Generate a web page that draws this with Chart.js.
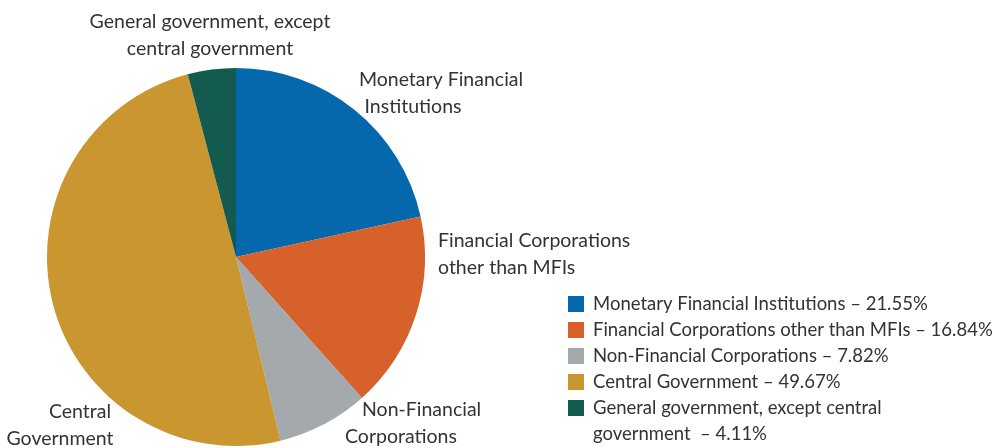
<!DOCTYPE html>
<html><head><meta charset="utf-8">
<script src="https://cdn.jsdelivr.net/npm/chart.js@4"></script>
<style>html,body{margin:0;padding:0;background:#fff}#wrap{width:997px;height:448px;position:relative}</style>
</head><body><div id="wrap"><canvas id="c" width="997" height="448"></canvas></div>
<script>
const categories = ["Monetary Financial Institutions","Financial Corporations other than MFIs","Non-Financial Corporations","Central Government","General government, except central government"];
const values = [21.55, 16.84, 7.82, 49.67, 4.11];
const colors = ["#0568AC","#D7612A","#A3A9AC","#C9962F","#135B4F"];
const sliceLabels = [["Monetary Financial","Institutions"],["Financial Corporations","other than MFIs"],["Non-Financial","Corporations"],["Central","Government"],["General government, except","central government"]];
const legendLines = [
  ["Monetary Financial Institutions \u2013 21.55%"],
  ["Financial Corporations other than MFIs \u2013 16.84%"],
  ["Non-Financial Corporations \u2013 7.82%"],
  ["Central Government \u2013 49.67%"],
  ["General government, except central","government  \u2013 4.11%"]
];
// label placement: [x, y, align] for each line
const labelPos = [
  [[441,80,"center"],[413,107,"center"]],
  [[438,241,"left"],[438,268,"left"]],
  [[362,410,"left"],[345,437,"left"]],
  [[80,412,"center"],[60,439,"center"]],
  [[210,22,"center"],[210,49,"center"]]
];
const LFONT = '19.5px Lato, "Open Sans", sans-serif';
const GFONT = '18.5px Lato, "Open Sans", sans-serif';
const TXT = '#333333';
const overlay = {
  id:'overlay',
  afterDraw(chart){
    const ctx = chart.ctx;
    ctx.save();
    ctx.font = LFONT; ctx.fillStyle = TXT; ctx.textBaseline='middle';
    sliceLabels.forEach((lines,i)=>{
      lines.forEach((t,j)=>{
        const p = labelPos[i][j];
        ctx.textAlign = p[2];
        ctx.fillText(t,p[0],p[1]);
      });
    });
    ctx.font = GFONT;
    let y = 304;
    legendLines.forEach((lines,i)=>{
      ctx.fillStyle = colors[i];
      ctx.fillRect(568, y-8, 16, 16);
      ctx.fillStyle = TXT; ctx.textAlign='left';
      lines.forEach((t,j)=>{ ctx.fillText(t, 593, y); y += 26; });
    });
    ctx.restore();
  }
};
new Chart(document.getElementById('c'),{
  type:'pie',
  data:{labels:categories,datasets:[{data:values,backgroundColor:colors,borderWidth:0}]},
  options:{
    responsive:false,animation:false,
    layout:{padding:{left:47,top:68,right:572,bottom:2}},
    plugins:{legend:{display:false},tooltip:{enabled:false}}
  },
  plugins:[overlay]
});
</script></body></html>
